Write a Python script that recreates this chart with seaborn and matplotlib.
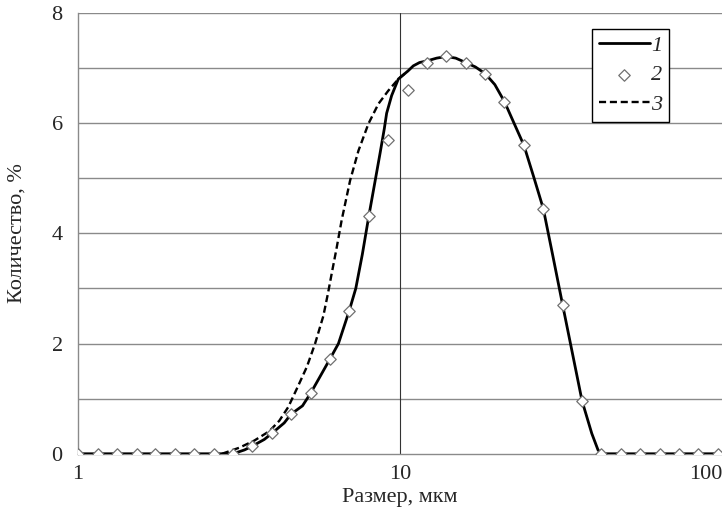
import seaborn as sns
import matplotlib.pyplot as plt
from matplotlib.ticker import FixedLocator, NullLocator, FixedFormatter

# размеры частиц (мкм) и количество (%) - точки (2)
sizes = [1, 1.15, 1.32, 1.52, 1.74, 2, 2.3, 2.64, 3.03, 3.48, 4, 4.59, 5.28, 6.06,
         6.96, 8, 9.19, 10.56, 12.13, 13.93, 16, 18.38, 21.11, 24.25, 27.86, 32,
         36.76, 42.22, 48.5, 55.7, 64, 73.5, 84.4, 97]
points2 = [0, 0, 0, 0, 0, 0, 0, 0, 0, 0.14, 0.37, 0.72, 1.10, 1.72, 2.60, 4.31,
           5.70, 6.60, 7.10, 7.21, 7.10, 6.90, 6.39, 5.60, 4.45, 2.70, 0.96, 0,
           0, 0, 0, 0, 0, 0]

# кривая 1
curve1_x = [1, 3.03, 3.29, 3.48, 3.79, 4.0, 4.37, 4.59, 4.98, 5.28, 5.62, 6.06,
            6.44, 6.96, 7.29, 7.64, 8.0, 8.37, 8.67, 8.94, 9.09, 9.42, 9.88,
            10.6, 11.0, 11.5, 12.13, 13.0, 13.93, 14.9, 16.0, 17.15, 18.38, 19.7,
            21.11, 22.6, 24.25, 26.0, 27.86, 29.86, 32.0, 34.3, 36.76, 39.4, 41.2,
            42.22, 100]
curve1_y = [0, 0, 0.07, 0.14, 0.26, 0.37, 0.56, 0.72, 0.87, 1.10, 1.38, 1.72,
            2.0, 2.60, 3.0, 3.62, 4.31, 4.95, 5.45, 5.90, 6.18, 6.50, 6.80,
            6.95, 7.04, 7.10, 7.13, 7.18, 7.21, 7.18, 7.10, 7.02, 6.90, 6.70,
            6.39, 6.0, 5.60, 5.03, 4.45, 3.58, 2.70, 1.83, 0.96, 0.37, 0.07,
            0, 0]

# кривая 3
curve3_x = [2.8, 3.17, 3.53, 3.93, 4.22, 4.5, 4.8, 5.14, 5.45, 5.78, 5.97, 6.15,
            6.35, 6.59, 7.0, 7.43, 7.98, 8.57, 9.2, 9.88, 10.6]
curve3_y = [0, 0.11, 0.24, 0.41, 0.60, 0.85, 1.2, 1.58, 2.0, 2.5, 2.9, 3.3,
            3.72, 4.24, 4.96, 5.50, 5.99, 6.35, 6.59, 6.80, 6.95]

sns.set_style('white')
plt.rcParams['font.family'] = ['Liberation Serif', 'DejaVu Serif']
plt.rcParams['font.size'] = 16

fig = plt.figure(figsize=(7.22, 5.18), dpi=100)
ax = fig.add_axes([0.108, 0.124, 0.892, 0.851])

sns.lineplot(x=curve3_x, y=curve3_y, ax=ax, color='black', lw=1.7,
             linestyle=(0, (3, 1.6)), sort=False, label='3', zorder=3)
sns.lineplot(x=curve1_x, y=curve1_y, ax=ax, color='black', lw=2.0,
             sort=False, label='1', zorder=4)
sns.scatterplot(x=sizes, y=points2, ax=ax, marker='D', s=34, color='white',
                edgecolor='#707070', linewidth=0.9, label='2', zorder=5)

ax.set_xscale('log')
ax.set_xlim(1, 100)
ax.set_ylim(0, 8)
ax.xaxis.set_major_locator(FixedLocator([1, 10, 100]))
ax.xaxis.set_major_formatter(FixedFormatter(['1', '10', '100']))
ax.xaxis.set_minor_locator(NullLocator())
ax.set_yticks([0, 2, 4, 6, 8])
ax.tick_params(axis='y', length=0, pad=11)
ax.tick_params(axis='x', length=0, pad=8)
ax.get_xticklabels()[-1].set_horizontalalignment('right')

for v in range(1, 9):
    ax.axhline(v, color='#8a8a8a', lw=1.0, zorder=1)
ax.axvline(10, color='#333333', lw=0.8, zorder=1)

for side in ['top', 'right']:
    ax.spines[side].set_visible(False)
for side in ['left', 'bottom']:
    ax.spines[side].set_color('#8a8a8a')
    ax.spines[side].set_linewidth(1.0)

ax.set_xlabel('Размер, мкм', labelpad=3)
ax.set_ylabel('Количество, %', labelpad=18)

h, l = ax.get_legend_handles_labels()
order = [l.index('1'), l.index('2'), l.index('3')]
leg = ax.legend([h[i] for i in order], [l[i] for i in order],
                loc='upper left', bbox_to_anchor=(0.798, 0.964),
                frameon=True, fancybox=False, edgecolor='black',
                framealpha=1, handlelength=2.3, handletextpad=0.05,
                borderpad=0.3, labelspacing=0.4, borderaxespad=0,
                prop={'style': 'italic', 'size': 16})
leg.get_frame().set_linewidth(1.0)

fig.savefig('out.png', dpi=100)
